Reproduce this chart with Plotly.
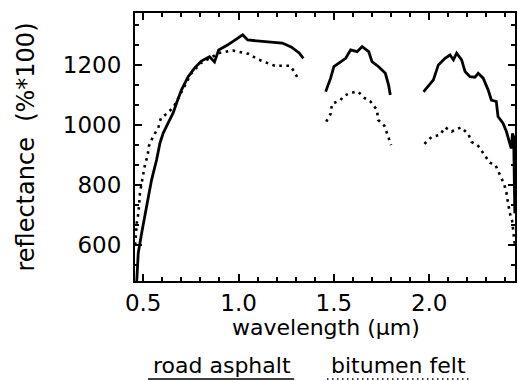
import plotly.graph_objects as go

# road asphalt (solid) - wavelength (um) and reflectance (%*100); None = gap
asphalt_wl = [0.466, 0.474, 0.492, 0.509, 0.527, 0.544, 0.570, 0.588, 0.605, 0.631,
              0.657, 0.675, 0.701, 0.735, 0.770, 0.805, 0.848, 0.874, 0.896, 0.944,
              0.996, 1.022, 1.048, 1.100, 1.125, 1.229, 1.276, 1.318, 1.340,
              None,
              1.457, 1.483, 1.500, 1.527, 1.562, 1.588, 1.622, 1.648, 1.683, 1.700,
              1.735, 1.770, 1.787, 1.796,
              None,
              1.970, 2.022, 2.048, 2.083, 2.109, 2.127, 2.144, 2.170, 2.188, 2.214,
              2.240, 2.257, 2.283, 2.309, 2.326, 2.352, 2.361, 2.387, 2.405, 2.422,
              2.430, 2.437, 2.443, 2.449]
asphalt_r = [478, 573, 640, 693, 760, 817, 883, 940, 973, 1007,
             1040, 1073, 1117, 1160, 1190, 1213, 1227, 1210, 1250, 1267,
             1290, 1300, 1283, 1280, 1277, 1273, 1260, 1240, 1222,
             None,
             1111, 1156, 1194, 1206, 1222, 1250, 1244, 1261, 1244, 1211,
             1194, 1172, 1133, 1100,
             None,
             1110, 1150, 1200, 1222, 1233, 1217, 1239, 1217, 1178, 1161,
             1159, 1172, 1156, 1117, 1083, 1078, 1028, 1006, 978, 944,
             922, 972, 960, 706]

# bitumen felt (dotted)
felt_wl = [0.458, 0.466, 0.475, 0.483, 0.492, 0.500, 0.510, 0.523, 0.530, 0.553,
           0.579, 0.593, 0.623, 0.660, 0.700, 0.750, 0.800, 0.850, 0.900, 0.970,
           1.022, 1.052, 1.100, 1.150, 1.190, 1.230, 1.270, 1.292, 1.318,
           None,
           1.460, 1.483, 1.490, 1.535, 1.553, 1.593, 1.627, 1.662, 1.692, 1.726,
           1.732, 1.765, 1.784, 1.800,
           None,
           1.975, 2.012, 2.057, 2.083, 2.118, 2.167, 2.205, 2.222, 2.257, 2.288,
           2.318, 2.347, 2.370, 2.393, 2.405, 2.413, 2.422, 2.435, 2.449]
felt_r = [600, 672, 707, 773, 807, 837, 870, 897, 930, 963,
          990, 1023, 1037, 1060, 1110, 1170, 1205, 1222, 1240, 1248,
          1242, 1237, 1219, 1207, 1197, 1197, 1197, 1178, 1147,
          None,
          1011, 1037, 1070, 1083, 1097, 1108, 1111, 1089, 1078, 1050,
          1017, 997, 963, 933,
          None,
          937, 960, 967, 992, 978, 992, 970, 944, 930, 903,
          874, 867, 837, 803, 774, 741, 708, 680, 600]

legend_names = ["road asphalt", "bitumen felt"]
x_title = "wavelength (μm)"
y_title = "reflectance  (%*100)"
y_ticks = [600, 800, 1000, 1200]
x_ticks = [0.5, 1.0, 1.5, 2.0]

FONT = "DejaVu Sans"

# plot-area geometry in pixels (for placing text in paper coords)
W, H = 518, 381
L, R, T, B = 135, 517, 13, 281


def px(x):
    return (x - L) / (R - L)


def py(y):
    return (B - y) / (B - T)


fig = go.Figure()
fig.add_trace(go.Scatter(x=felt_wl, y=felt_r, mode="lines", connectgaps=False,
                         line=dict(color="black", width=2.6, dash="2.6px,4.5px"),
                         showlegend=False))
fig.add_trace(go.Scatter(x=asphalt_wl, y=asphalt_r, mode="lines", connectgaps=False,
                         line=dict(color="black", width=2.8),
                         showlegend=False))

axis_common = dict(
    showline=True, linecolor="black", linewidth=2, mirror="ticks",
    ticks="inside", ticklen=7, tickwidth=1.5, tickcolor="black",
    showgrid=False, zeroline=False,
    tickfont=dict(family=FONT, size=23, color="black"),
)

fig.update_xaxes(
    range=[0.457, 2.45], tickmode="array", tickvals=x_ticks,
    ticktext=[f"{v:.1f}" for v in x_ticks],
    minor=dict(dtick=0.1, tick0=0.5, ticks="inside", ticklen=4, tickwidth=1.5,
               tickcolor="black", showgrid=False),
    ticklabelstandoff=0,
    **axis_common,
)
fig.update_yaxes(
    range=[480, 1373], tickmode="array", tickvals=y_ticks,
    ticktext=[str(v) for v in y_ticks],
    minor=dict(dtick=200 / 3, tick0=600, ticks="inside", ticklen=4, tickwidth=1.5,
               tickcolor="black", showgrid=False),
    ticklabelstandoff=7,
    **axis_common,
)

# axis titles
fig.add_annotation(x=px(327), y=py(327), xref="paper", yref="paper",
                   text=x_title, showarrow=False,
                   font=dict(family=FONT, size=22, color="black"),
                   xanchor="center", yanchor="middle")
fig.add_annotation(x=px(25), y=py(147), xref="paper", yref="paper",
                   text=y_title, showarrow=False, textangle=-90,
                   font=dict(family=FONT, size=24, color="black"),
                   xanchor="center", yanchor="middle")

# legend as text with underline styles
fig.add_annotation(x=px(222), y=py(365), xref="paper", yref="paper",
                   text=legend_names[0], showarrow=False,
                   font=dict(family=FONT, size=22, color="black"),
                   xanchor="center", yanchor="middle")
fig.add_annotation(x=px(400), y=py(365), xref="paper", yref="paper",
                   text=legend_names[1], showarrow=False,
                   font=dict(family=FONT, size=22, color="black"),
                   xanchor="center", yanchor="middle")
fig.add_shape(type="line", xref="paper", yref="paper",
              x0=px(148), x1=px(295), y0=py(379), y1=py(379),
              line=dict(color="black", width=1.5))
fig.add_shape(type="line", xref="paper", yref="paper",
              x0=px(328), x1=px(472), y0=py(379), y1=py(379),
              line=dict(color="black", width=1.5, dash="1.5px,3.5px"))

fig.update_layout(
    width=W, height=H,
    margin=dict(l=L, r=W - R, t=T, b=H - B),
    paper_bgcolor="white", plot_bgcolor="white",
    showlegend=False,
)

fig.write_html("out.html")
